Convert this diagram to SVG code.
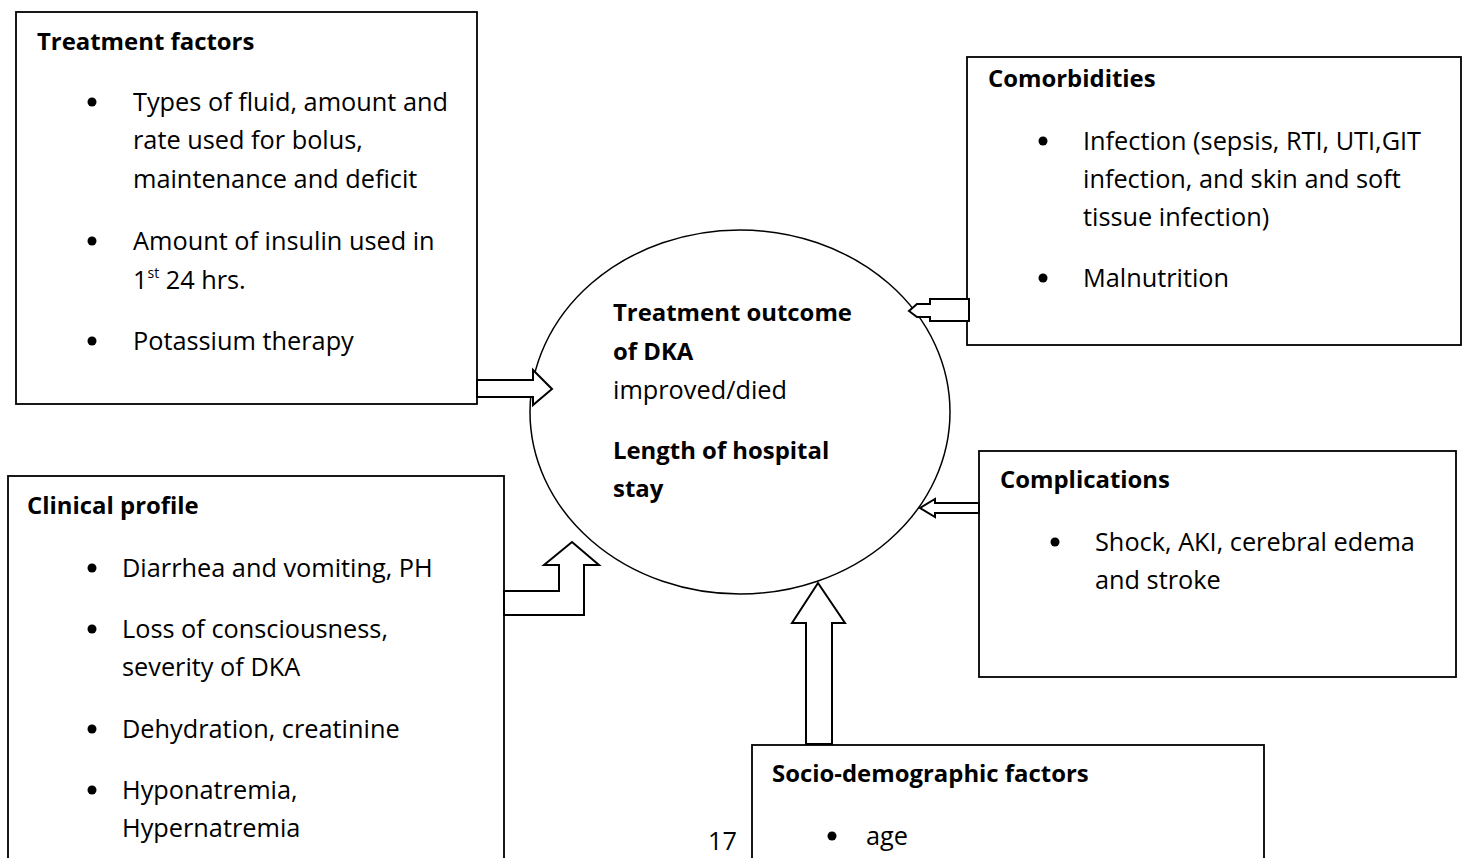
<svg xmlns="http://www.w3.org/2000/svg" width="1466" height="858" viewBox="0 0 1466 858">
<style>
.box{fill:#fff;stroke:#000;stroke-width:1.8}
.arr{fill:#fff;stroke:#000;stroke-width:2;stroke-linejoin:miter}
text{font-family:"Open Sans","Liberation Sans",sans-serif;font-size:25.3px;fill:#000}
.b{font-weight:bold;font-size:23.9px}
.dot{fill:#000}
</style>
<rect width="1466" height="858" fill="#fff"/>
<g id="outcome">
<ellipse cx="740" cy="412" rx="210" ry="182" fill="#fff" stroke="#000" stroke-width="1.5"/>
<text x="613" y="321" class="b">Treatment outcome</text>
<text x="613" y="360" class="b">of DKA</text>
<text x="613" y="399">improved/died</text>
<text x="613" y="459" class="b">Length of hospital</text>
<text x="613" y="497" class="b">stay</text>
</g>
<g id="treatment">
<rect class="box" x="16" y="12" width="461" height="392"/>
<text x="37" y="50" class="b">Treatment factors</text>
<circle class="dot" cx="92" cy="102" r="4.5"/>
<text x="133" y="111">Types of fluid, amount and</text>
<text x="133" y="149">rate used for bolus,</text>
<text x="133" y="188">maintenance and deficit</text>
<circle class="dot" cx="92" cy="241" r="4.5"/>
<text x="133" y="250">Amount of insulin used in</text>
<text x="133" y="289">1<tspan font-size="14" dy="-11">st</tspan><tspan dy="11"> 24 hrs.</tspan></text>
<circle class="dot" cx="92" cy="341" r="4.5"/>
<text x="133" y="350">Potassium therapy</text>
</g>
<g id="comorbidities">
<rect class="box" x="967" y="57" width="494" height="288"/>
<text x="988" y="87" class="b">Comorbidities</text>
<circle class="dot" cx="1043" cy="141" r="4.5"/>
<text x="1083" y="150">Infection (sepsis, RTI, UTI,GIT</text>
<text x="1083" y="188">infection, and skin and soft</text>
<text x="1083" y="226">tissue infection)</text>
<circle class="dot" cx="1043" cy="278" r="4.5"/>
<text x="1083" y="287">Malnutrition</text>
</g>
<g id="complications">
<rect class="box" x="979" y="451" width="477" height="226"/>
<text x="1000" y="488" class="b">Complications</text>
<circle class="dot" cx="1055" cy="542" r="4.5"/>
<text x="1095" y="551">Shock, AKI, cerebral edema</text>
<text x="1095" y="589">and stroke</text>
</g>
<g id="clinical">
<rect class="box" x="8" y="476" width="496" height="400"/>
<text x="27" y="514" class="b">Clinical profile</text>
<circle class="dot" cx="92" cy="568" r="4.5"/>
<text x="122" y="577">Diarrhea and vomiting, PH</text>
<circle class="dot" cx="92" cy="629" r="4.5"/>
<text x="122" y="638">Loss of consciousness,</text>
<text x="122" y="676">severity of DKA</text>
<circle class="dot" cx="92" cy="729" r="4.5"/>
<text x="122" y="738">Dehydration, creatinine</text>
<circle class="dot" cx="92" cy="790" r="4.5"/>
<text x="122" y="799">Hyponatremia,</text>
<text x="122" y="837">Hypernatremia</text>
</g>
<g id="socio">
<rect class="box" x="752" y="745" width="512" height="130"/>
<text x="772" y="782" class="b">Socio-demographic factors</text>
<circle class="dot" cx="832" cy="836" r="4.5"/>
<text x="866" y="845">age</text>
</g>
<text x="708" y="850">17</text>
<g id="connectors">
<polygon class="arr" points="477,380 533,380 533,370 552,389 533,405 533,397 477,397"/>
<polygon class="arr" points="969,299 930,299 930,304 917,304 909,311 917,317 930,317 930,321 969,321"/>
<polygon class="arr" points="979,503 935,503 935,499 920,508 935,517 935,513 979,513"/>
<polygon class="arr" points="504,591 559,591 559,565 544,565 572,542 599,565 584,565 584,615 504,615"/>
<polygon class="arr" points="806,744 806,623 792,623 818,583 845,623 832,623 832,744"/>
</g>
</svg>
